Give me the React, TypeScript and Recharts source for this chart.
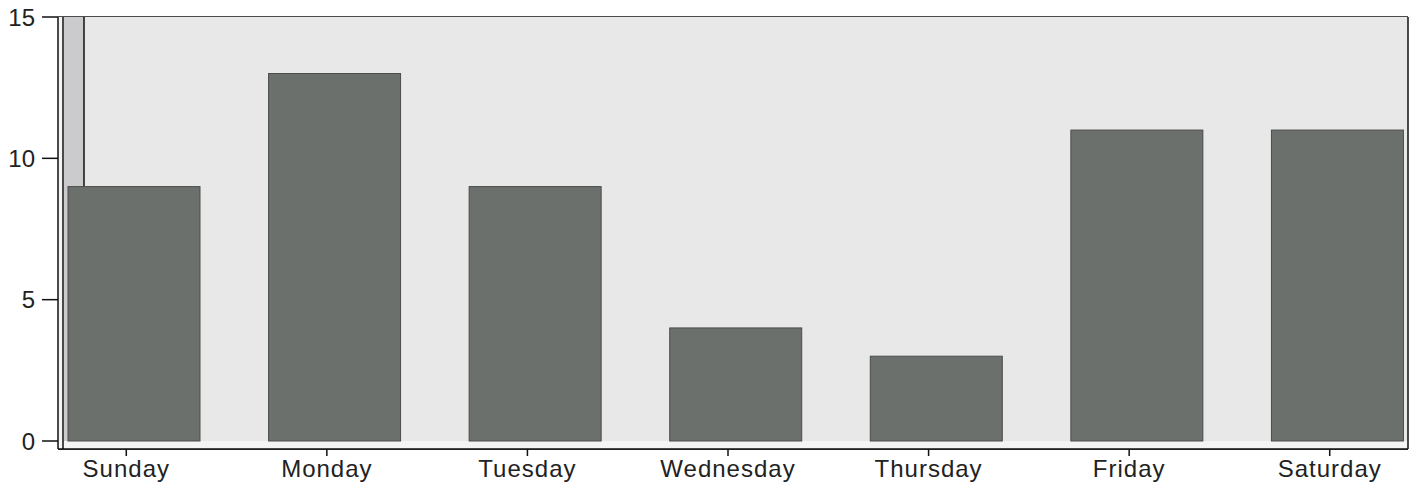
import { Bar, BarChart, CartesianGrid, Customized, XAxis, YAxis } from 'recharts';

const days = ['Sunday', 'Monday', 'Tuesday', 'Wednesday', 'Thursday', 'Friday', 'Saturday'];
const counts = [9, 13, 9, 4, 3, 11, 11];
const yTicks = [0, 5, 10, 15];

const data = days.map((day, i) => ({ day, count: counts[i] }));

// frame geometry (page pixels)
const W = 1418;
const H = 489;
const TOP = 17;
const LEFT = 58;
const RIGHT = 1408;
const FLOOR = 8; // depth of the 3D floor / wall
const BOTTOM = 449;
const DEPTH_X = 8; // bars sit a bit behind the front plane

function Backdrop() {
  const back = BOTTOM - FLOOR;
  return (
    <g>
      <rect x={LEFT} y={TOP} width={RIGHT - LEFT} height={BOTTOM - TOP} fill="#f4f4f4" />
      <rect x={LEFT + 26} y={TOP} width={RIGHT - LEFT - 26} height={back - TOP} fill="#e8e8e8" />
      <rect x={LEFT + 6} y={TOP} width={20} height={back - TOP} fill="#cbcbce" />
      <line x1={LEFT + 5} y1={TOP} x2={LEFT + 5} y2={BOTTOM} stroke="#111" strokeWidth={1.5} />
      <line x1={LEFT + 26} y1={TOP} x2={LEFT + 26} y2={back} stroke="#111" strokeWidth={1.5} />
      <line x1={RIGHT} y1={TOP} x2={RIGHT} y2={BOTTOM} stroke="#111" strokeWidth={1.5} />
    </g>
  );
}

function ShiftedBar(props: any) {
  const { x, y, width, height } = props;
  return (
    <rect
      x={x + DEPTH_X}
      y={y}
      width={width}
      height={height}
      fill="#6c706d"
      stroke="#4a4d4a"
      strokeWidth={1}
    />
  );
}

export default function App() {
  return (
    <div style={{ position: 'absolute', left: 0, top: 0, width: W, height: H, background: '#fff' }}>
      <BarChart
        width={W}
        height={H}
        data={data}
        margin={{ top: TOP, right: W - RIGHT, bottom: 0, left: 0 }}
        style={{ fontFamily: '"Liberation Sans", Arial, sans-serif' }}
      >
        <Customized component={Backdrop} />
        <CartesianGrid vertical={false} stroke="#111" strokeWidth={1.5} />
        <XAxis
          dataKey="day"
          interval={0}
          height={H - BOTTOM}
          padding={{ left: -32, right: -22 }}
          axisLine={{ stroke: '#111', strokeWidth: 1.5 }}
          tickLine={{ stroke: '#111', strokeWidth: 1.5 }}
          tickSize={7}
          tickMargin={4}
          tick={{ fill: '#222', fontSize: 24, letterSpacing: 1 }}
        />
        <YAxis
          width={LEFT}
          domain={[-FLOOR / 28.27, 15]}
          ticks={yTicks}
          allowDataOverflow
          axisLine={{ stroke: '#111', strokeWidth: 1.5 }}
          tickLine={{ stroke: '#111', strokeWidth: 1.5 }}
          tickSize={16}
          tickMargin={7}
          tick={{ fill: '#222', fontSize: 24 }}
        />
        <Bar dataKey="count" barSize={132} shape={ShiftedBar} isAnimationActive={false} />
      </BarChart>
    </div>
  );
}
